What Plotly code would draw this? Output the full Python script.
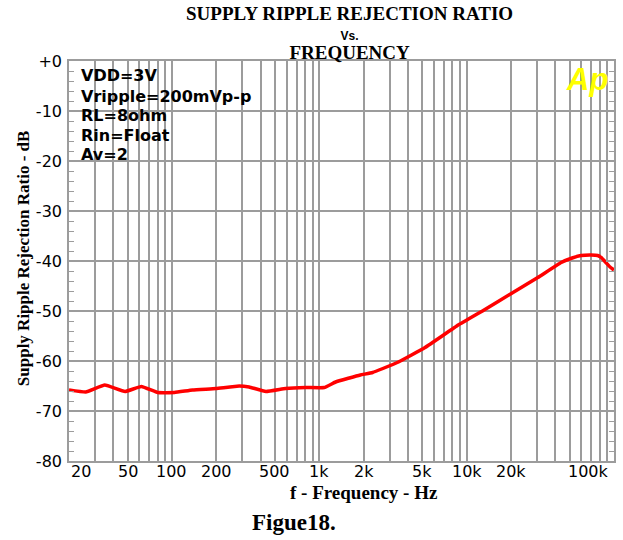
import numpy as np
import plotly.graph_objects as go

# ---- data ----
freq_hz = [20, 26, 35, 48, 62, 80, 104, 138, 199, 286, 334, 434, 590, 808, 1080,
           1290, 1600, 1900, 2300, 2700, 3440, 5220, 8770, 13300, 20100, 30400,
           43800, 52000, 59700, 70000, 77400, 82000, 88000, 94000, 100000]
srr_db = [-65.8, -66.2, -64.8, -66.1, -65.1, -66.3, -66.3, -65.8, -65.5, -65.0, -65.2,
          -66.1, -65.5, -65.3, -65.3, -64.2, -63.4, -62.8, -62.3, -61.5, -60.2, -57.3,
          -52.8, -49.7, -46.5, -43.3, -40.3, -39.4, -38.9, -38.8, -38.9, -39.3, -40.3,
          -41.2, -41.8]

x_tick_vals = [20, 50, 100, 200, 500, 1000, 2000, 5000, 10000, 20000, 100000]
x_tick_text = ["20", "50", "100", "200", "500", "1k", "2k", "5k", "10k", "20k", "100k"]
y_tick_vals = [0, -10, -20, -30, -40, -50, -60, -70, -80]
y_tick_text = ["+0", "-10", "-20", "-30", "-40", "-50", "-60", "-70", "-80"]

legend_lines = ["VDD=3V", "Vripple=200mVp-p", "RL=8ohm", "Rin=Float", "Av=2"]

X_MIN, X_MAX = 20, 100000
Y_MIN, Y_MAX = -80, 0

# gridline positions (1..9 per decade)
grid_vals = [m * 10 ** d for d in range(1, 6) for m in range(1, 10)
             if X_MIN <= m * 10 ** d <= X_MAX]

W, H = 623, 540
ML, MR, MT, MB = 69, 7, 61, 79
PW, PH = W - ML - MR, H - MT - MB

def px_x(px):
    return (px - ML) / PW

def px_y(py):
    return 1 - (py - MT) / PH

def fx(f):
    return (np.log10(f) - np.log10(X_MIN)) / (np.log10(X_MAX) - np.log10(X_MIN))

GRID = "#9c9c9c"

fig = go.Figure()
fig.add_trace(go.Scatter(x=freq_hz, y=srr_db, mode="lines",
                         line=dict(color="#ff0000", width=3.5, shape="spline", smoothing=0.3),
                         hoverinfo="skip"))

fig.update_layout(
    width=W, height=H,
    margin=dict(l=ML, r=MR, t=MT, b=MB, pad=0),
    paper_bgcolor="white", plot_bgcolor="white",
    showlegend=False,
    xaxis=dict(type="log", range=[np.log10(X_MIN), np.log10(X_MAX)],
               tickmode="array", tickvals=grid_vals, showticklabels=False,
               showgrid=True, gridcolor=GRID, gridwidth=1.6,
               ticks="inside", ticklen=8, tickcolor=GRID, tickwidth=1.6,
               showline=True, linecolor=GRID, linewidth=1.6, mirror="ticks",
               zeroline=False),
    yaxis=dict(range=[Y_MIN, Y_MAX], tickmode="array", tickvals=y_tick_vals,
               ticktext=y_tick_text,
               tickfont=dict(family="DejaVu Sans", size=16, color="black"),
               showgrid=True, gridcolor=GRID, gridwidth=1.6,
               ticks="inside", ticklen=8, tickcolor=GRID, tickwidth=1.6,
               minor=dict(dtick=2, ticks="inside", ticklen=5, tickcolor=GRID,
                          tickwidth=1.4, showgrid=False),
               showline=True, linecolor=GRID, linewidth=1.6, mirror="ticks",
               zeroline=False, ticklabelstandoff=2),
)

# white info box over the gridlines
fig.add_shape(type="rect", xref="paper", yref="paper",
              x0=px_x(70), x1=px_x(260), y0=px_y(160), y1=px_y(62),
              fillcolor="white", line=dict(width=0), layer="between")

ann = []
line_y = [76, 96, 116, 135, 154]
for txt, yy in zip(legend_lines, line_y):
    ann.append(dict(text=txt, xref="paper", yref="paper", x=px_x(79), y=px_y(yy),
                    xanchor="left", yanchor="middle", showarrow=False,
                    font=dict(family="DejaVu Sans", size=16, color="black", weight="bold")))

# x tick labels
for i, (v, t) in enumerate(zip(x_tick_vals, x_tick_text)):
    if i == 0:
        xa, xp = "left", 0.0
    elif i == len(x_tick_vals) - 1:
        xa, xp = "right", px_x(613)
    else:
        xa, xp = "center", fx(v)
    ann.append(dict(text=t, xref="paper", yref="paper", x=xp, y=px_y(471.5),
                    xanchor=xa, yanchor="middle", showarrow=False,
                    font=dict(family="DejaVu Sans", size=16, color="black")))

# three-line chart title (line spacing set by the base font size)
title_txt = ("<span style='font-size:19px'>SUPPLY RIPPLE REJECTION RATIO</span><br>"
             "<span style='font-family:Liberation Sans;font-size:12px'>Vs.</span><br>"
             "<span style='font-size:19px'>FREQUENCY</span>")
ann.append(dict(text="<b>" + title_txt + "</b>", xref="paper", yref="paper",
                x=px_x(351), y=px_y(33), xanchor="center", yanchor="middle",
                showarrow=False, align="center",
                font=dict(family="Liberation Serif", size=15, color="black")))
ann.append(dict(text="<b>f - Frequency - Hz</b>", xref="paper", yref="paper",
                x=px_x(365), y=px_y(492.5), xanchor="center", yanchor="middle", showarrow=False,
                font=dict(family="Liberation Serif", size=19, color="black")))
ann.append(dict(text="<b>Supply Ripple Rejection Ratio - dB</b>", xref="paper", yref="paper",
                x=px_x(23), y=px_y(258), xanchor="center", yanchor="middle", showarrow=False,
                textangle=-90,
                font=dict(family="Liberation Serif", size=17, color="black")))
ann.append(dict(text="<b>Figue18.</b>", xref="paper", yref="paper",
                x=px_x(295), y=px_y(522), xanchor="center", yanchor="middle", showarrow=False,
                font=dict(family="Liberation Serif", size=23, color="black")))
ann.append(dict(text="<b><i>Ap</i></b>", xref="paper", yref="paper",
                x=px_x(589), y=px_y(79), xanchor="center", yanchor="middle", showarrow=False,
                font=dict(family="Liberation Sans", size=31, color="#ffff00")))

fig.update_layout(annotations=ann)
fig.write_html("out.html", config={"displayModeBar": False})

# remove the browser's default page margin so the figure sits at (0, 0)
with open("out.html", encoding="utf-8") as fh:
    html = fh.read()
html = html.replace("<head>", "<head><style>html,body{margin:0;padding:0;overflow:hidden}</style>", 1)
with open("out.html", "w", encoding="utf-8") as fh:
    fh.write(html)
